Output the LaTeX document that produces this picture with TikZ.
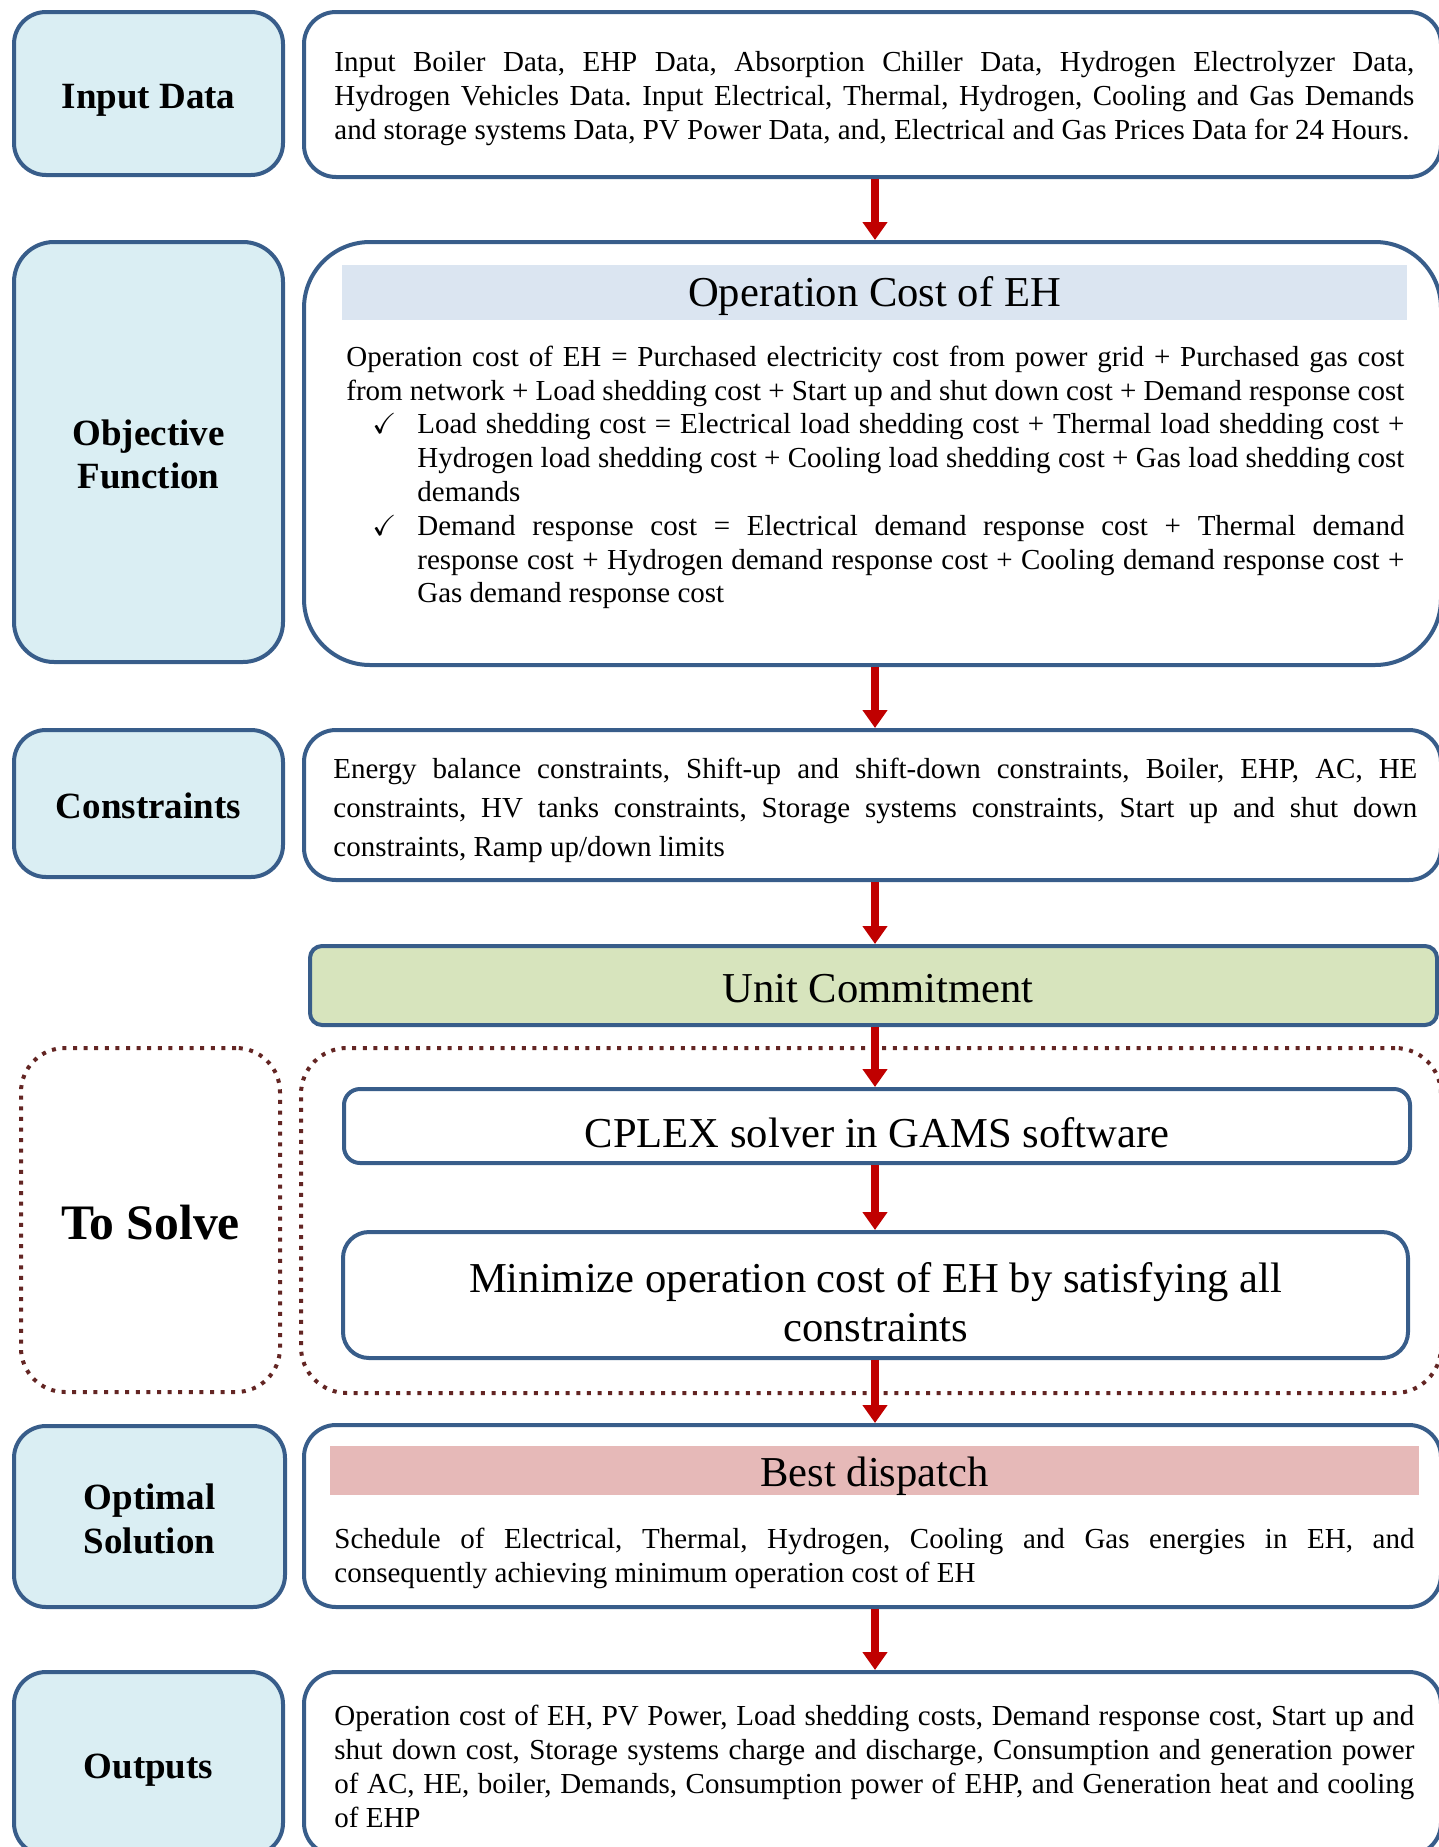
\documentclass[tikz,border=0pt]{standalone}
\usepackage{fontspec}
\setmainfont{Liberation Serif}
\usepackage{amssymb}
\usetikzlibrary{arrows.meta}
\definecolor{bord}{HTML}{385D8A}
\definecolor{lblue}{HTML}{DAEEF3}
\definecolor{hblue}{HTML}{DBE5F1}
\definecolor{hpink}{HTML}{E6B9B8}
\definecolor{ucgreen}{HTML}{D7E4BD}
\definecolor{arrred}{HTML}{C00000}
\definecolor{dotred}{HTML}{632523}
\begin{document}
\begin{tikzpicture}[x=0.5pt,y=-0.5pt,
  lbox/.style={draw=bord, line width=2pt, fill=lblue, rounded corners=16pt, inner sep=0pt},
  rbox/.style={draw=bord, line width=2pt, fill=white, rounded corners=16pt, inner sep=0pt},
  lbl/.style={inner sep=0pt, align=center, font=\fontsize{18.5}{21.7}\selectfont\bfseries},
  band/.style={inner sep=0pt},
  bigtxt/.style={inner sep=0pt, font=\fontsize{21.3}{24.5}\selectfont},
  body/.style={inner sep=0pt, anchor=west, align=justify, font=\fontsize{14.5}{17}\selectfont\frenchspacing},
  dotbox/.style={draw=dotred, line width=2pt, dash pattern=on 2pt off 3.3pt, rounded corners=22pt, inner sep=0pt},
  flow/.style={draw=arrred, line width=4pt, -{Triangle[width=12pt,length=9pt]}}
]
\clip (0,0) rectangle (1439,1847);

% ---- left label boxes ----
\node[lbox, minimum width=134.5pt, minimum height=81.5pt] (inL) at (148.5,93.5) {};
\node[lbox, rounded corners=20pt, minimum width=134.5pt, minimum height=210pt] (objL) at (148.5,452) {};
\node[lbox, minimum width=134.5pt, minimum height=73.5pt] (conL) at (148.5,803.5) {};
\node[dotbox, minimum width=129.5pt, minimum height=172pt] (solveL) at (150.5,1220) {};
\node[lbox, minimum width=135.5pt, minimum height=90.5pt] (optL) at (149.5,1516.5) {};
\node[lbox, minimum width=134.5pt, minimum height=91.5pt] (outL) at (148.5,1763.5) {};

\node[lbl, yshift=-3.5pt] (inLt) at (inL.center) {Input Data};
\node[lbl, yshift=-1.25pt] (objLt) at (objL.center) {Objective\\Function};
\node[lbl, yshift=-1.25pt] (conLt) at (conL.center) {Constraints};
\node[lbl, yshift=-1.25pt, font=\fontsize{24.8}{28}\selectfont\bfseries] (solveLt) at (solveL.center) {To Solve};
\node[lbl, yshift=-1.25pt] (optLt) at (optL.center) {Optimal\\Solution};
\node[lbl, yshift=-3.5pt] (outLt) at (outL.center) {Outputs};

% ---- right boxes ----
\node[rbox, minimum width=568.5pt, minimum height=82.5pt] (inR) at (872.5,94.5) {};
\node[rbox, rounded corners=33pt, minimum width=568.5pt, minimum height=211.5pt] (objR) at (872.5,453.5) {};
\node[rbox, minimum width=568.5pt, minimum height=75pt] (conR) at (872.5,805) {};
\node[rbox, fill=ucgreen, rounded corners=6pt, minimum width=563.5pt, minimum height=39.5pt] (ucR) at (873.5,985.5) {};
\node[dotbox, rounded corners=23pt, minimum width=570pt, minimum height=172.5pt] (solveR) at (871,1220.5) {};
\node[rbox, rounded corners=8pt, minimum width=533pt, minimum height=37pt] (cplex) at (877,1126) {};
\node[rbox, rounded corners=13pt, minimum width=532.5pt, minimum height=63pt] (mini) at (875.5,1295) {};
\node[rbox, minimum width=568.5pt, minimum height=91pt] (optR) at (872.5,1516) {};
\node[rbox, minimum width=568.5pt, minimum height=91.5pt] (outR) at (872.5,1763.5) {};

% ---- header bands ----
\node[band, fill=hblue, minimum width=532.5pt, minimum height=27.5pt] (objHead) at (874.5,292.5) {};
\node[band, fill=hpink, minimum width=544.5pt, minimum height=24.5pt] (optHead) at (874.5,1470.5) {};

% ---- large texts ----
\node[bigtxt, yshift=-1.75pt] (objHeadT) at (objHead.center) {Operation Cost of EH};
\node[bigtxt, yshift=-1.75pt, xshift=2.3pt] (ucT) at (ucR.center) {Unit Commitment};
\node[bigtxt, yshift=-3.5pt] (cplexT) at (cplex.center) {CPLEX solver in GAMS software};
\node[bigtxt, yshift=-3.5pt, align=center] (miniT) at (mini.center) {Minimize operation cost of EH by satisfying all\\constraints};
\node[bigtxt, yshift=-3pt] (optHeadT) at (optHead.center) {Best dispatch};

% ---- body texts ----
\node[body, text width=540pt] (inT) at (334,98.8) {Input Boiler Data, EHP Data, Absorption Chiller Data, Hydrogen Electrolyzer Data,\linebreak Hydrogen Vehicles Data. Input Electrical, Thermal, Hydrogen, Cooling and Gas Demands\linebreak and storage systems Data, PV Power Data, and, Electrical and Gas Prices Data for 24 Hours.};

\node[body, text width=529pt, font=\fontsize{14.5}{16.9}\selectfont\frenchspacing] (objT) at (346,477.5) {\noindent Operation cost of EH = Purchased electricity cost from power grid + Purchased gas cost\linebreak from network + Load shedding cost + Start up and shut down cost + Demand response cost\par
\hangindent=35.5pt\hangafter=1\noindent\hspace*{13pt}\makebox[22.5pt][l]{$\checkmark$}Load shedding cost = Electrical load shedding cost + Thermal load shedding cost +\linebreak Hydrogen load shedding cost + Cooling load shedding cost + Gas load shedding cost\linebreak demands\par
\hangindent=35.5pt\hangafter=1\noindent\hspace*{13pt}\makebox[22.5pt][l]{$\checkmark$}Demand response cost = Electrical demand response cost + Thermal demand\linebreak response cost + Hydrogen demand response cost + Cooling demand response cost +\linebreak Gas demand response cost\par};

\node[body, text width=542pt, font=\fontsize{14.5}{19.5}\selectfont\frenchspacing] (conT) at (333,810.5) {Energy balance constraints, Shift-up and shift-down constraints, Boiler, EHP, AC, HE\linebreak constraints, HV tanks constraints, Storage systems constraints, Start up and shut down\linebreak constraints, Ramp up/down limits};

\node[body, text width=540pt] (optT) at (334,1558.5) {Schedule of Electrical, Thermal, Hydrogen, Cooling and Gas energies in EH, and\linebreak consequently achieving minimum operation cost of EH};

\node[body, text width=540pt] (outT) at (334,1766) {Operation cost of EH, PV Power, Load shedding costs, Demand response cost, Start up and\linebreak shut down cost, Storage systems charge and discharge, Consumption and generation power\linebreak of AC, HE, boiler, Demands, Consumption power of EHP, and Generation heat and cooling\linebreak of EHP};

% ---- arrows ----
\coordinate (ax) at (875,0);
\draw[flow] (inR.south -| ax) -- (objR.north -| ax);
\draw[flow] (objR.south -| ax) -- (conR.north -| ax);
\draw[flow] (conR.south -| ax) -- (ucR.north -| ax);
\draw[flow] (ucR.south -| ax) -- (cplex.north -| ax);
\draw[flow] (cplex.south -| ax) -- (mini.north -| ax);
\draw[flow] (mini.south -| ax) -- (optR.north -| ax);
\draw[flow] (optR.south -| ax) -- (outR.north -| ax);
\end{tikzpicture}
\end{document}
